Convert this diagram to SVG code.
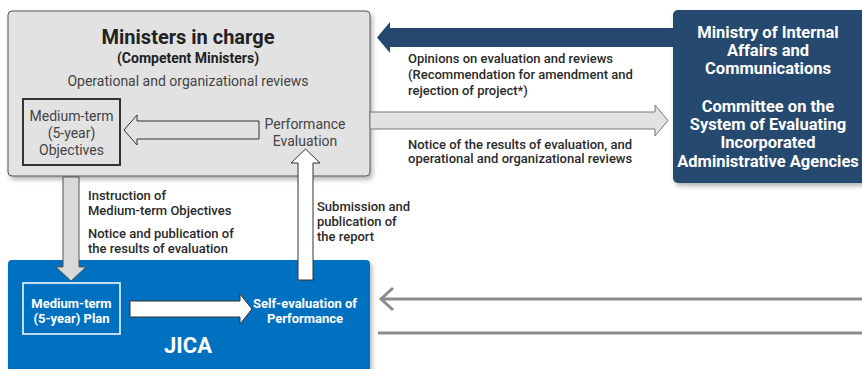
<svg xmlns="http://www.w3.org/2000/svg" width="862" height="369" viewBox="0 0 862 369">
<defs>
<filter id="sh" x="-10%" y="-10%" width="130%" height="130%">
<feDropShadow dx="2" dy="3" stdDeviation="2.5" flood-color="#000" flood-opacity="0.3"/>
</filter>
<style>
text{font-family:Roboto,"Liberation Sans",sans-serif;}
.lbl{font-size:13px;font-weight:500;fill:#2a2a2a;}
.nv{font-size:16.5px;font-weight:700;fill:#fff;text-anchor:middle;}
.gr{font-size:14px;fill:#444;text-anchor:middle;}
.wb{font-size:13px;font-weight:700;fill:#fff;text-anchor:middle;}
</style>
</defs>
<rect width="862" height="369" fill="#fff"/>

<g id="ministers">
<rect x="8" y="11" width="362" height="165" rx="4" fill="#e2e2e2" stroke="#555" stroke-width="1" filter="url(#sh)"/>
<text x="188" y="44" text-anchor="middle" font-size="20" font-weight="700" fill="#222">Ministers in charge</text>
<text x="188" y="63" text-anchor="middle" font-size="14" font-weight="700" fill="#222">(Competent Ministers)</text>
<text x="188" y="86" class="gr">Operational and organizational reviews</text>
</g>

<g id="objectives">
<rect x="23" y="99" width="97" height="66" fill="#e2e2e2" stroke="#333" stroke-width="2"/>
<text x="71.5" y="121" class="gr">Medium-term</text>
<text x="71.5" y="138" class="gr">(5-year)</text>
<text x="71.5" y="155" class="gr">Objectives</text>
</g>

<g id="performance">
<text x="305" y="129" class="gr">Performance</text>
<text x="305" y="146" class="gr">Evaluation</text>
</g>

<g id="mic">
<rect x="673" y="10" width="200" height="173" rx="5" fill="#264870" filter="url(#sh)"/>
<text x="768" y="38" class="nv">Ministry of Internal</text>
<text x="768" y="56" class="nv">Affairs and</text>
<text x="768" y="74" class="nv">Communications</text>
<text x="768" y="112" class="nv">Committee on the</text>
<text x="768" y="130" class="nv">System of Evaluating</text>
<text x="768" y="148" class="nv">Incorporated</text>
<text x="768" y="167" class="nv">Administrative Agencies</text>
</g>

<g id="jica">
<rect x="8" y="260" width="362" height="125" rx="4" fill="#0070c0" filter="url(#sh)"/>
<text x="188" y="353" text-anchor="middle" font-size="22" font-weight="700" fill="#fff">JICA</text>
</g>

<g id="plan">
<rect x="23" y="283" width="97" height="51" fill="none" stroke="#fff" stroke-width="1.5"/>
<text x="71.5" y="308" class="wb">Medium-term</text>
<text x="71.5" y="323" class="wb">(5-year) Plan</text>
</g>

<g id="selfeval">
<text x="305" y="308" class="wb">Self-evaluation of</text>
<text x="305" y="323" class="wb">Performance</text>
</g>

<g id="connectors">
<polygon points="124,130 137,115 137,121 259,121 259,139 137,139 137,145" fill="#e2e2e2" stroke="#333" stroke-width="1"/>
<polygon points="63,177 79,177 79,267 86,267 71,281 56,267 63,267" fill="#d9d9d9" stroke="#555" stroke-width="1"/>
<polygon points="298,280 313,280 313,163 320,163 305.5,149 291,163 298,163" fill="#fff" stroke="#333" stroke-width="1"/>
<polygon points="370,112 655,112 655,105 668,120.5 655,136 655,129 370,129" fill="#e2e2e2" stroke="#777" stroke-width="1"/>
<polygon points="673,28 390,28 390,22 377,37.5 390,53 390,47 673,47" fill="#264870"/>
<polygon points="130,301 240,301 240,294 252,309 240,324 240,317 130,317" fill="#fff" stroke="#333" stroke-width="1"/>
<line x1="381" y1="299" x2="862" y2="299" stroke="#8c8c8c" stroke-width="3"/>
<polyline points="393,288 381,299 393,310" fill="none" stroke="#8c8c8c" stroke-width="3"/>
<line x1="378" y1="333" x2="862" y2="333" stroke="#8c8c8c" stroke-width="3"/>
</g>

<g id="labels">
<text x="408" y="63" class="lbl">Opinions on evaluation and reviews</text>
<text x="408" y="79" class="lbl">(Recommendation for amendment and</text>
<text x="408" y="95" class="lbl">rejection of project*)</text>
<text x="408" y="149" class="lbl">Notice of the results of evaluation, and</text>
<text x="408" y="163" class="lbl">operational and organizational reviews</text>
<text x="88" y="200" class="lbl">Instruction of</text>
<text x="88" y="215" class="lbl">Medium-term Objectives</text>
<text x="88" y="238" class="lbl">Notice and publication of</text>
<text x="88" y="253" class="lbl">the results of evaluation</text>
<text x="317" y="211" class="lbl">Submission and</text>
<text x="317" y="226" class="lbl">publication of</text>
<text x="317" y="241" class="lbl">the report</text>
</g>
</svg>
